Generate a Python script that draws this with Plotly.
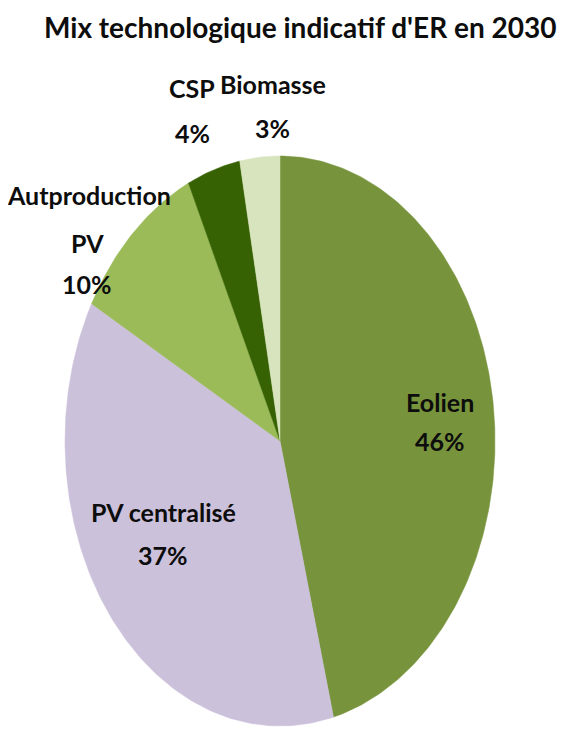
import numpy as np
import plotly.graph_objects as go

labels = ["Eolien", "PV centralisé", "Autproduction PV", "CSP", "Biomasse"]
values = [46, 37, 10, 4, 3]
colors = ["#77933C", "#CCC1DA", "#9BBB59", "#376203", "#D7E4BD"]
title_text = "Mix technologique indicatif d'ER en 2030"

# layout constants (page pixel space; the page body has an 8px margin)
PAGE_W, PAGE_H, BODY_M = 573, 735, 8
CX, CY, RX, RY = 280, 441, 215, 285
FONT = "Lato, Roboto, sans-serif"
LABEL_SIZE = 25

# label line positions per slice (name lines..., pct line)
label_pos = {
    "Eolien": [(440, 402), (440, 441)],
    "PV centralisé": [(163, 512), (163, 555)],
    "Autproduction PV": [(89, 195), (87, 243), (87, 284)],
    "CSP": [(192, 88), (192, 133)],
    "Biomasse": [(273, 84), (272, 128)],
}

fig = go.Figure()
total = sum(values)
start = 0.0
for lab, v, c in zip(labels, values, colors):
    a0 = 2 * np.pi * start / total
    a1 = 2 * np.pi * (start + v) / total
    t = np.linspace(a0, a1, max(int(v * 4), 12))
    xs = [CX] + list(CX + RX * np.sin(t)) + [CX]
    ys = [CY] + list(CY - RY * np.cos(t)) + [CY]
    fig.add_trace(go.Scatter(
        x=xs, y=ys, fill="toself", fillcolor=c, mode="lines",
        line=dict(width=0.5, color=c), hoverinfo="skip", showlegend=False))
    start += v

annotations = []
for lab, v in zip(labels, values):
    pos = label_pos[lab]
    if lab == "Autproduction PV":
        lines = ["Autproduction", "PV", f"{v}%"]
    else:
        lines = [lab, f"{v}%"]
    for (x, y), txt in zip(pos, lines):
        annotations.append(dict(
            x=x, y=y, xref="x", yref="y", text=f"<b>{txt}</b>", showarrow=False,
            xanchor="center", yanchor="middle",
            font=dict(family=FONT, size=LABEL_SIZE, color="#0d0d0d")))

annotations.append(dict(
    x=300, y=27, xref="x", yref="y", text=f"<b>{title_text}</b>", showarrow=False,
    xanchor="center", yanchor="middle",
    font=dict(family=FONT, size=28, color="#0d0d0d")))

fig.update_layout(
    width=PAGE_W - 2 * BODY_M, height=PAGE_H - 2 * BODY_M,
    margin=dict(l=0, r=0, t=0, b=0),
    paper_bgcolor="white", plot_bgcolor="white",
    xaxis=dict(range=[BODY_M, PAGE_W - BODY_M], visible=False, fixedrange=True),
    yaxis=dict(range=[PAGE_H - BODY_M, BODY_M], visible=False, fixedrange=True),
    annotations=annotations,
)

fig.write_html("out.html")
